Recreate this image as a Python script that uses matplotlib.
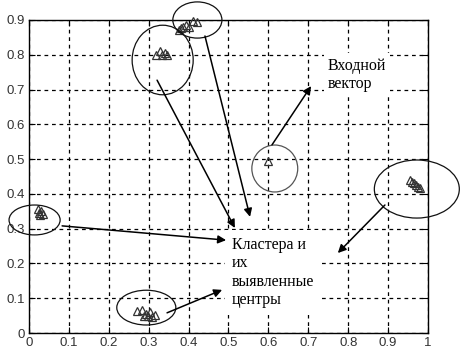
import matplotlib
matplotlib.use("Agg")
import matplotlib.pyplot as plt
from matplotlib.patches import Ellipse

# ---- data ----
cluster_a_x = [0.022, 0.030, 0.025, 0.034, 0.028]
cluster_a_y = [0.356, 0.352, 0.344, 0.343, 0.338]
cluster_b_x = [0.270, 0.283, 0.292, 0.298, 0.308, 0.288, 0.303, 0.315]
cluster_b_y = [0.062, 0.066, 0.056, 0.050, 0.046, 0.048, 0.060, 0.052]
cluster_c_x = [0.318, 0.328, 0.334, 0.340, 0.346]
cluster_c_y = [0.800, 0.810, 0.798, 0.806, 0.800]
cluster_d_x = [0.375, 0.381, 0.387, 0.393, 0.402, 0.412, 0.420]
cluster_d_y = [0.870, 0.876, 0.881, 0.886, 0.880, 0.898, 0.895]
input_x = [0.600]
input_y = [0.496]
cluster_f_x = [0.955, 0.960, 0.965, 0.970, 0.975, 0.980]
cluster_f_y = [0.440, 0.435, 0.430, 0.425, 0.420, 0.416]

# ellipses: centre x, centre y, width, height (data units)
ell_cx = [0.014, 0.294, 0.335, 0.422, 0.616, 0.972]
ell_cy = [0.325, 0.073, 0.785, 0.900, 0.473, 0.414]
ell_w = [0.128, 0.148, 0.153, 0.123, 0.115, 0.213]
ell_h = [0.086, 0.100, 0.200, 0.104, 0.135, 0.167]

# arrows: start -> end (data units)
arr_x0 = [0.321, 0.441, 0.083, 0.346, 0.892, 0.609]
arr_y0 = [0.727, 0.854, 0.308, 0.058, 0.368, 0.541]
arr_x1 = [0.516, 0.554, 0.494, 0.484, 0.774, 0.707]
arr_y1 = [0.302, 0.334, 0.267, 0.124, 0.230, 0.710]

xticks = [0, 0.1, 0.2, 0.3, 0.4, 0.5, 0.6, 0.7, 0.8, 0.9, 1]
xticklabels = ["0", "0.1", "0.2", "0.3", "0.4", "0.5", "0.6", "0.7", "0.8", "0.9", "1"]
yticks = [0, 0.1, 0.2, 0.3, 0.4, 0.5, 0.6, 0.7, 0.8, 0.9]
yticklabels = ["0", "0.1", "0.2", "0.3", "0.4", "0.5", "0.6", "0.7", "0.8", "0.9"]

text_input = "Входной\nвектор"
text_clusters = "Кластера и\nих\nвыявленные\nцентры"

# ---- figure ----
fig = plt.figure(figsize=(4.64, 3.61), dpi=100)
ax = fig.add_axes([29 / 464, 28 / 361, 399 / 464, 313 / 361])
ax.set_xlim(0, 1)
ax.set_ylim(0, 0.9)
ax.set_xticks(xticks)
ax.set_xticklabels(xticklabels)
ax.set_yticks(yticks)
ax.set_yticklabels(yticklabels)
ax.tick_params(direction="in", length=4, width=0.8, colors="black",
               labelcolor="#333333", labelsize=9.5, top=True, right=True, pad=3)
for lab in ax.get_xticklabels() + ax.get_yticklabels():
    lab.set_fontfamily("Liberation Sans")
ax.grid(True, color="black", linestyle=(0, (3, 3)), linewidth=0.9)
ax.set_axisbelow(True)
for s in ax.spines.values():
    s.set_linewidth(1.0)

for xs, ys in [(cluster_a_x, cluster_a_y), (cluster_b_x, cluster_b_y),
               (cluster_c_x, cluster_c_y), (cluster_d_x, cluster_d_y),
               (input_x, input_y), (cluster_f_x, cluster_f_y)]:
    ax.plot(xs, ys, linestyle="none", marker="^", markersize=5.5,
            markerfacecolor="none", markeredgecolor="#333333",
            markeredgewidth=0.9, clip_on=False, zorder=3)

for i, (cx, cy, w, h) in enumerate(zip(ell_cx, ell_cy, ell_w, ell_h)):
    col = "#555555" if i == 4 else "#111111"
    e = Ellipse((cx, cy), w, h, fill=False, edgecolor=col, linewidth=0.9,
                clip_on=False, zorder=4)
    ax.add_patch(e)

ax.text(0.509, 0.276, text_clusters, fontsize=11.5, family="Liberation Serif",
        va="top", ha="left", linespacing=1.2, zorder=5,
        bbox=dict(facecolor="white", edgecolor="none", pad=5))
ax.text(0.749, 0.792, text_input, fontsize=11.5, family="Liberation Serif",
        va="top", ha="left", linespacing=1.2, zorder=5,
        bbox=dict(facecolor="white", edgecolor="none", pad=3))

for x0, y0, x1, y1 in zip(arr_x0, arr_y0, arr_x1, arr_y1):
    ax.annotate("", xy=(x1, y1), xytext=(x0, y0),
                arrowprops=dict(arrowstyle="-|>", mutation_scale=12,
                                color="black", lw=1.1, shrinkA=0, shrinkB=0),
                annotation_clip=False, zorder=6)

fig.savefig("out.png", dpi=100)
